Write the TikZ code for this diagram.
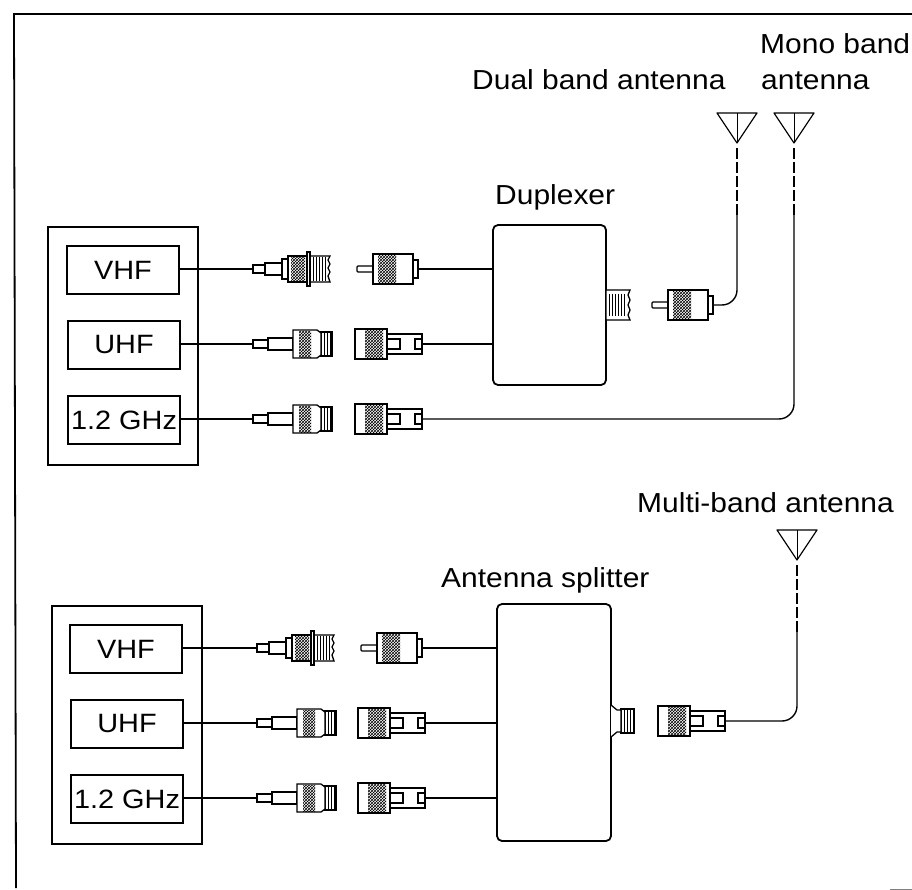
\documentclass[tikz,border=0pt]{standalone}
\usepackage{fontspec}
\setmainfont[FakeStretch=1.09]{Liberation Sans}
\usepackage{tikz}
\usetikzlibrary{patterns}
\tikzset{
  radiobox/.style={draw=black, line width=1.8pt, minimum width=150pt, minimum height=238pt, inner sep=0pt, outer sep=0pt},
  bandbox/.style={draw=black, line width=1.2pt, minimum width=112pt, minimum height=48pt, inner sep=0pt, outer sep=0pt, font=\fontsize{26.5}{32}\selectfont},
  unitbox/.style={draw=black, line width=1.8pt, rounded corners=5pt, inner sep=0pt, outer sep=0pt},
  lbl/.style={inner sep=0pt, anchor=base west, font=\fontsize{27.5}{33}\selectfont},
  wire/.style={black, line width=1.4pt},
  feed/.style={black, line width=1.8pt, dash pattern=on 11pt off 3pt},
  conn/.style={draw=black, line width=1.3pt, fill=white},
  knurl/.style={pattern=crosshatch, pattern color=black},
  % threaded end, right edge slightly wavy
  sockflange/.pic={
    \draw[conn] (0,-4) rectangle (12,4);
    \draw[conn] (12,-6) rectangle (29,6);
    \draw[conn] (29,-10) rectangle (35,10);
    \draw[conn] (35,-13) rectangle (54,13);
    \fill[knurl] (38,-12) rectangle (52,12);
    \draw[conn] (57,-13) -- (77,-13) -- (75,-9) -- (77,-5) -- (75,-1) -- (77,3) -- (75,7) -- (77,13) -- (57,13) -- cycle;
    \foreach \t in {60,63,66,69,72} \draw[line width=1pt] (\t,-12) -- (\t,12);
    \draw[conn] (54,-17) rectangle (57,17);
    \coordinate (-l) at (0,0);
  },
  socktaper/.pic={
    \draw[conn] (0,-4) rectangle (15,4);
    \draw[conn] (15,-6) rectangle (40,6);
    \draw[conn] (64,-12) -- (79,-12) -- (79,12) -- (64,12) -- cycle;
    \foreach \t in {68,71,74,77} \draw[line width=1pt] (\t,-11) -- (\t,11);
    \draw[conn] (40,-14) -- (64,-14) -- (68,-11) -- (68,11) -- (64,14) -- (40,14) -- cycle;
    \fill[knurl] (46,-13) rectangle (58,13);
    \coordinate (-l) at (0,0);
  },
  plugpin/.pic={
    \draw[conn, rounded corners=1pt] (0,-3) rectangle (18,3);
    \draw[conn] (56,-9) rectangle (61,9);
    \draw[conn, line width=1.6pt] (16,-15) rectangle (56,15);
    \fill[knurl] (21,-14) rectangle (39,14);
    \coordinate (-r) at (61,0);
  },
  plugtube/.pic={
    \draw[conn] (32,-10) rectangle (67,10);
    \draw[conn] (32,-5) rectangle (45,5);
    \draw[conn] (60,-5) rectangle (67,5);
    \draw[conn, line width=1.6pt] (0,-15) rectangle (32,15);
    \fill[knurl] (10,-14) rectangle (28,14);
    \coordinate (-r) at (67,0);
  },
  stubthread/.pic={
    \draw[conn] (0,-15) -- (24,-15) -- (22,-10) -- (24,-5) -- (22,0) -- (24,5) -- (22,10) -- (24,15) -- (0,15) -- cycle;
    \foreach \t in {3,6,9,12,15,18} \draw[line width=1pt] (\t,-11) -- (\t,11);
  },
  stubflare/.pic={
    \draw[conn] (10,-12) rectangle (23,12);
    \foreach \t in {13,16,19} \draw[line width=1pt] (\t,-11) -- (\t,11);
    \draw[conn] (0,-16) -- (6,-11) -- (10,-11) -- (10,11) -- (6,11) -- (0,16);
  },
  antenna/.pic={
    \draw[line width=1.2pt, line join=round] (-20,-30) -- (20,-30) -- (0,0) -- cycle;
    \draw[line width=0.7pt] (0,-30) -- (0,0);
    \coordinate (-b) at (0,2);
  },
}
\begin{document}
\begin{tikzpicture}[x=1pt,y=-1pt]
  \useasboundingbox (0,0) rectangle (912,890);
  % sheet edge
  \draw[line width=1.8pt, black] (16,888) -- (14,14) -- (912,14);
  \draw[line width=1pt, black!50] (890,889) -- (912,889);
  % transceivers
  \node[radiobox] (radioa) at (123,346) {};
  \node[radiobox] (radiob) at (127,725) {};
  \foreach \nm/\txt/\xx/\yy in {vhfa/VHF/123/270, uhfa/UHF/124/345, ghza/1.2 GHz/124/420,
                                vhfb/VHF/126/649, uhfb/UHF/127/724, ghzb/1.2 GHz/127/799} {
    \node[bandbox] (\nm) at (\xx,\yy) {\txt};
  }
  % boxes
  \node[unitbox, minimum width=113pt, minimum height=160pt] (duplexer) at (549.5,305) {};
  \node[unitbox, minimum width=114pt, minimum height=237pt] (splitter) at (554,722.5) {};
  \pic at (duplexer.east |- 0,305) {stubthread};
  \pic at (splitter.east |- 0,721) {stubflare};
  % connectors, upper set
  \pic (vhfajack) at (253,269) {sockflange};
  \pic (uhfajack) at (253,344) {socktaper};
  \pic (ghzajack) at (253,419) {socktaper};
  \pic (vhfaplug) at (357,269) {plugpin};
  \pic (uhfaplug) at (355,344) {plugtube};
  \pic (ghzaplug) at (355,419) {plugtube};
  \pic (dualplug) at (652,305) {plugpin};
  % connectors, lower set
  \pic (vhfbjack) at (257,648) {sockflange};
  \pic (uhfbjack) at (257,723) {socktaper};
  \pic (ghzbjack) at (257,798) {socktaper};
  \pic (vhfbplug) at (361,648) {plugpin};
  \pic (uhfbplug) at (358,723) {plugtube};
  \pic (ghzbplug) at (358,798) {plugtube};
  \pic (multiplug) at (658,721) {plugtube};
  % antennas
  \pic (dualant) at (737,143) {antenna};
  \pic (monoant) at (794,143) {antenna};
  \pic (multiant) at (797,560) {antenna};
  \coordinate (dualtop) at (737,215);
  \coordinate (monotop) at (794,215);
  \coordinate (multitop) at (797,632);
  % wires
  \foreach \nm in {vhfa,uhfa,ghza,vhfb,uhfb,ghzb} {
    \draw[wire] (\nm jack-l -| \nm.east) -- (\nm jack-l);
  }
  \draw[wire] (vhfaplug-r) -- (vhfaplug-r -| duplexer.west);
  \draw[wire] (uhfaplug-r) -- (uhfaplug-r -| duplexer.west);
  \draw[wire] (vhfbplug-r) -- (vhfbplug-r -| splitter.west);
  \draw[wire] (uhfbplug-r) -- (uhfbplug-r -| splitter.west);
  \draw[wire] (ghzbplug-r) -- (ghzbplug-r -| splitter.west);
  \draw[wire, rounded corners=15pt] (dualplug-r) -| (dualtop);
  \draw[wire, rounded corners=15pt] (ghzaplug-r) -| (monotop);
  \draw[wire, rounded corners=15pt] (multiplug-r) -| (multitop);
  \draw[feed] (dualtop) -- (dualant-b);
  \draw[feed] (monotop) -- (monoant-b);
  \draw[feed] (multitop) -- (multiant-b);
  % labels
  \node[lbl] (monolbl) at (760,54) {Mono band};
  \node[lbl] (monolblb) at (761,90) {antenna};
  \node[lbl] (duallbl) at (472,90) {Dual band antenna};
  \node[lbl] (duplbl) at (495,205) {Duplexer};
  \node[lbl] (multilbl) at (637,512) {Multi-band antenna};
  \node[lbl] (splitlbl) at (441,587) {Antenna splitter};
\end{tikzpicture}
\end{document}
